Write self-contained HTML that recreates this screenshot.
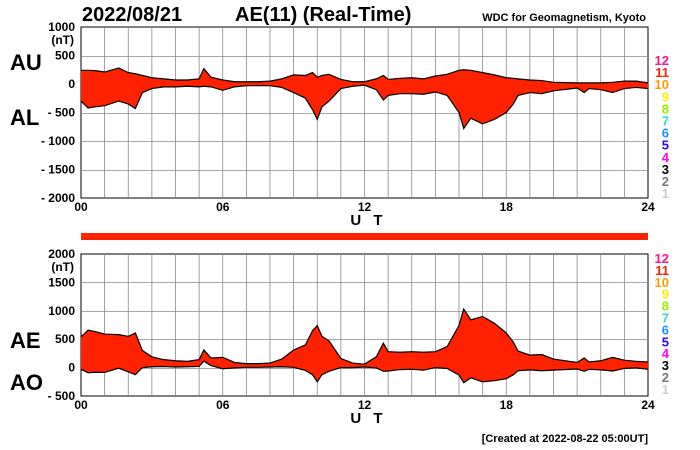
<!DOCTYPE html>
<html><head><meta charset="utf-8"><style>
html,body{margin:0;padding:0;background:#fff;width:700px;height:450px;overflow:hidden}
svg{display:block;font-family:"Liberation Sans",sans-serif}
</style></head><body>
<svg id="chart" width="700" height="450" viewBox="0 0 700 450">
<text x="82" y="21" font-size="20" font-weight="bold">2022/08/21</text>
<text x="235" y="21" font-size="20" font-weight="bold">AE(11) (Real-Time)</text>
<text x="646" y="21" font-size="11" font-weight="bold" text-anchor="end">WDC for Geomagnetism, Kyoto</text>
<text x="10" y="70" font-size="22" font-weight="bold">AU</text>
<text x="10" y="125" font-size="22" font-weight="bold">AL</text>
<text x="10" y="348" font-size="22" font-weight="bold">AE</text>
<text x="10" y="390" font-size="22" font-weight="bold">AO</text>
<text x="648" y="442" font-size="11" font-weight="bold" text-anchor="end">[Created at 2022-08-22 05:00UT]</text>
<rect x="81" y="233" width="567" height="7" fill="#ff2200"/>
<g id="top"></g><g id="bot"></g>
</svg>
<script>
const hours = [0,0.3,0.6,1,1.6,2,2.3,2.6,3,3.5,4,4.5,5,5.2,5.5,6,6.5,7,7.5,8,8.5,9,9.5,9.8,10,10.2,10.5,11,11.5,12,12.5,12.8,13,13.5,14,14.5,15,15.5,16,16.2,16.5,17,17.5,18,18.3,18.5,19,19.5,20,21,21.3,21.5,22,22.5,23,23.5,24];
const auValues = [240,240,235,210,280,200,180,150,110,90,70,70,90,270,120,70,40,40,40,50,90,160,150,200,120,150,170,80,40,40,90,150,80,100,110,90,140,170,240,250,240,200,160,110,100,90,70,60,30,20,20,20,20,30,50,50,20];
const alValues = [-300,-420,-400,-380,-300,-350,-430,-150,-80,-50,-50,-40,-50,-40,-50,-110,-50,-30,-30,-30,-60,-150,-250,-450,-620,-400,-300,-80,-40,-20,-100,-280,-200,-170,-170,-180,-140,-200,-500,-780,-600,-700,-620,-500,-350,-200,-150,-170,-120,-70,-150,-80,-100,-150,-80,-60,-80];
const topTicks = [1000,500,0,-500,-1000,-1500,-2000];
const topTickLabels = ["1000","500","0","- 500","- 1000","- 1500","- 2000"];
const botTicks = [2000,1500,1000,500,0,-500];
const botTickLabels = ["2000","1500","1000","500","0","- 500"];
const xTickHours = [0,6,12,18,24];
const xTickLabels = ["00","06","12","18","24"];
const legendNums = ["12","11","10","9","8","7","6","5","4","3","2","1"];
const legendColors = ["#ff1493","#ff2200","#ff9900","#ffee00","#99ee00","#33ddcc","#1e90ff","#3300ff","#ff00ff","#000000","#777777","#cccccc"];

const NS="http://www.w3.org/2000/svg";
function mk(parent,tag,attrs,txt){const e=document.createElementNS(NS,tag);for(const k in attrs)e.setAttribute(k,attrs[k]);if(txt!==undefined)e.textContent=txt;parent.appendChild(e);return e;}
const X0=81,X1=648;
const xs=h=>X0+(X1-X0)*h/24;

function panel(g,top,bottom,vmax,vmin,ticks,labels,upper,lower,prefix,legTop,legStep){
  const ys=v=>top+(vmax-v)/(vmax-vmin)*(bottom-top);
  const bg=mk(g,'rect',{x:X0,y:top,width:X1-X0,height:bottom-top,fill:'#fff',stroke:'#000','stroke-width':1});
  
  
  for(let h=1;h<24;h++){const l=mk(g,'line',{x1:xs(h),x2:xs(h),y1:top,y2:bottom,stroke:'#888','stroke-width':0.8});
    
    }
  ticks.forEach((v,i)=>{const y=ys(v);
    if(v!==vmax&&v!==vmin){const l=mk(g,'line',{x1:X0,x2:X1,y1:Math.round(y)+0.5,y2:Math.round(y)+0.5,stroke:'#888','stroke-width':0.8});
      
      }
    const t=mk(g,'text',{x:75,y:y+4,'font-size':12,'font-weight':'bold','text-anchor':'end'},labels[i]);
    
    });
  const u=mk(g,'text',{x:74,y:ys(ticks[0])+17,'font-size':12,'font-weight':'bold','text-anchor':'end'},'(nT)');
  
  
  const up=hours.map((h,i)=>xs(h)+','+ys(upper[i]));
  const lo=hours.map((h,i)=>xs(h)+','+ys(lower[i])).reverse();
  const area=mk(g,'polygon',{points:up.concat(lo).join(' '),fill:'#ff2200'});
  
  
  const l1=mk(g,'polyline',{points:up.join(' '),fill:'none',stroke:'#000','stroke-width':1.2});
  
  
  const l2=mk(g,'polyline',{points:lo.join(' '),fill:'none',stroke:'#000','stroke-width':1.2});
  
  
  xTickHours.forEach((h,i)=>{const t=mk(g,'text',{x:xs(h),y:bottom+13,'font-size':12,'font-weight':'bold','text-anchor':'middle'},xTickLabels[i]);
    
    });
  const ut=mk(g,'text',{x:xs(12)+4,y:bottom+27,'font-size':15,'font-weight':'bold','text-anchor':'middle','letter-spacing':'4'},'U T');
  
  
  legendNums.forEach((n,i)=>{const t=mk(g,'text',{x:669,y:legTop+i*legStep,'font-size':13,'font-weight':'bold','text-anchor':'end',fill:legendColors[i]},n);
    
    });
}
const aeValues=auValues.map((v,i)=>v-alValues[i]);
const aoValues=auValues.map((v,i)=>(v+alValues[i])/2);
panel(document.getElementById('top'),27,198,1000,-2000,topTicks,topTickLabels,auValues,alValues,'top',65,12.1);
panel(document.getElementById('bot'),254,396,2000,-500,botTicks,botTickLabels,aeValues,aoValues,'bottom',263,11.9);
</script>
</body></html>
